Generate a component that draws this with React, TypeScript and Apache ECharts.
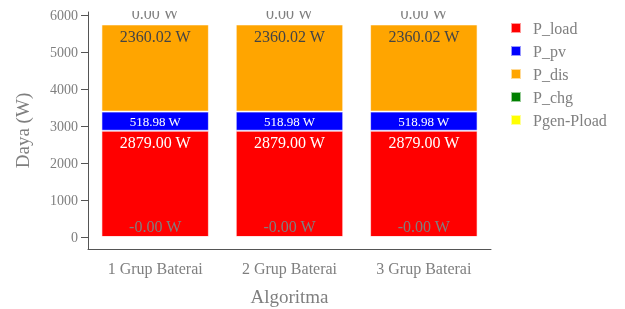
import React, { useEffect, useRef } from "react";
import * as echarts from "echarts";

const categories = ["1 Grup Baterai", "2 Grup Baterai", "3 Grup Baterai"];
const pLoad = [2879.0, 2879.0, 2879.0];
const pPv = [518.98, 518.98, 518.98];
const pDis = [2360.02, 2360.02, 2360.02];
const pChg = [-0.001, -0.001, -0.001];
const pGenMinusLoad = [0.0, 0.0, 0.0];
const yTicks = [0, 1000, 2000, 3000, 4000, 5000, 6000];
const legendOrder = ["P_load", "P_pv", "P_dis", "P_chg", "Pgen-Pload"];

const FONT = "Liberation Serif";
const GREY = "#7f7f7f";

const fmt = (p: any) => `${Number(p.value).toFixed(2)} W`;

export default function App() {
  const ref = useRef<HTMLDivElement>(null);
  useEffect(() => {
    if (!ref.current) return;
    const chart = echarts.init(ref.current, undefined, { renderer: "svg" });
    const border = { borderColor: "rgba(255,255,255,0.6)", borderWidth: 1 };
    const mk = (name: string, data: number[], color: string, label: any) => ({
      name,
      type: "bar",
      stack: "total",
      data,
      barCategoryGap: "20%",
      itemStyle: { color, ...border },
      label: { show: true, formatter: fmt, fontFamily: FONT, ...label },
    });
    chart.setOption({
      animation: false,
      textStyle: { fontFamily: FONT },
      grid: { left: 88, right: 134, top: 12, bottom: 60, outerBoundsMode: "none", containLabel: false },
      legend: {
        orient: "vertical",
        left: 505,
        top: 15,
        icon: "path://M0 0H10V10H0Z",
        itemWidth: 24,
        itemHeight: 10,
        itemGap: 7,
        textStyle: { fontFamily: FONT, fontSize: 16, color: GREY, lineHeight: 16 },
        data: legendOrder,
      },
      xAxis: {
        type: "category",
        data: categories,
        name: "Algoritma",
        nameLocation: "middle",
        nameGap: 38,
        nameTextStyle: { fontFamily: FONT, fontSize: 19, color: GREY },
        axisLine: { onZero: false, lineStyle: { color: "#555", width: 1 } },
        axisTick: { alignWithLabel: true, length: 5, lineStyle: { color: "#555" } },
        axisLabel: { fontFamily: FONT, fontSize: 16, color: GREY, margin: 11 },
      },
      yAxis: {
        type: "value",
        min: -324,
        max: 6095,
        name: "Daya (W)",
        nameLocation: "middle",
        nameGap: 56,
        nameTextStyle: { fontFamily: FONT, fontSize: 19, color: GREY },
        splitLine: { show: false },
        axisLine: { show: true, lineStyle: { color: "#555", width: 1 } },
        axisTick: { show: true, length: 7, customValues: yTicks, lineStyle: { color: "#555" } },
        axisLabel: {
          fontFamily: FONT,
          fontSize: 14,
          color: GREY,
          margin: 10,
          customValues: yTicks,
          formatter: (v: number) => String(v),
        },
      },
      graphic: [
        {
          type: "rect",
          z: 100,
          shape: { x: 89, y: 0, width: 410, height: 11 },
          style: { fill: "#ffffff" },
        },
      ],
      series: [
        mk("P_load", pLoad, "#ff0000", { position: "insideTop", distance: 4, color: "#ffffff", fontSize: 16 }),
        mk("P_pv", pPv, "#0000ff", { position: "inside", color: "#ffffff", fontSize: 13 }),
        mk("P_dis", pDis, "#ffa500", { position: "insideTop", distance: 4, color: "#444444", fontSize: 16 }),
        mk("Pgen-Pload", pGenMinusLoad, "#ffff00", { position: "top", distance: 2, color: GREY, fontSize: 16 }),
        mk("P_chg", pChg, "#008000", { position: "top", distance: 2, color: GREY, fontSize: 16 }),
      ],
    });
    return () => chart.dispose();
  }, []);
  return (
    <div
      ref={ref}
      style={{ position: "fixed", left: 0, top: 0, width: 625, height: 309 }}
    />
  );
}
